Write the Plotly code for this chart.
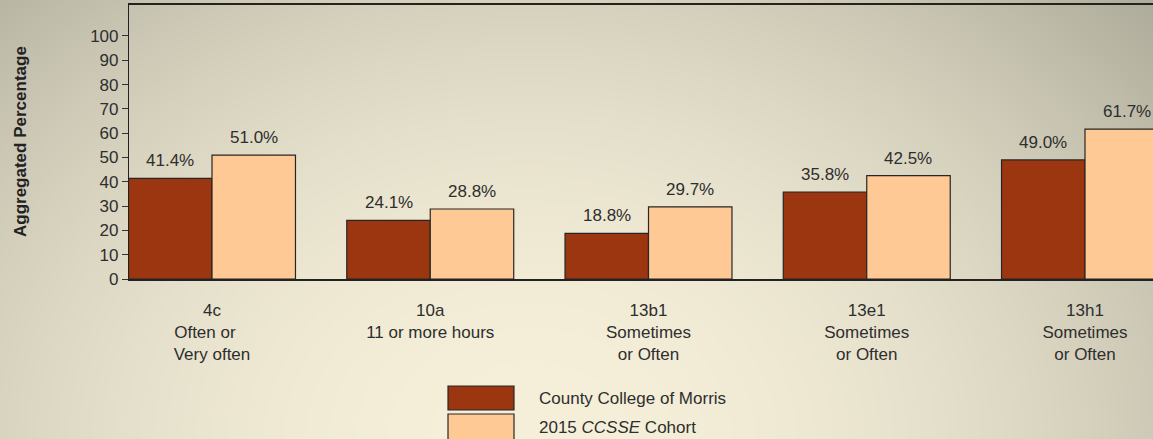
import base64, struct, zlib
import numpy as np
import plotly.graph_objects as go

# ---------------- data ----------------
categories = ["4c<br>Often or\u00a0\u00a0\u00a0<br>Very often",
              "10a<br>11 or more hours",
              "13b1<br>Sometimes<br>or Often",
              "13e1<br>Sometimes<br>or Often",
              "13h1<br>Sometimes<br>or Often"]
college_values = [41.4, 24.1, 18.8, 35.8, 49.0]
cohort_values = [51.0, 28.8, 29.7, 42.5, 61.7]
series_names = ["County College of Morris", "2015 CCSSE Cohort"]
y_ticks = list(range(0, 101, 10))

# ---------------- layout constants ----------------
W, H = 1153, 439
ML, MR, MT, MB = 129, 0, 5, 160
PW, PH = W - ML - MR, H - MT - MB
FONT = "Arial, 'Liberation Sans', sans-serif"
TXT = "#2e2e2e"
DARK = "#9c3610"
LIGHT = "#ffc996"
BW = 0.3825
FS = 17

def px_x(p):
    return (p - ML) / PW

def px_y(p):
    return (H - MB - p) / PH

# ---------------- gradient background ----------------
def make_bg():
    yy, xx = np.mgrid[0:H, 0:W].astype(float)
    cx, cy, rx, ry = 530.0, 440.0, 760.0, 600.0
    d = np.sqrt(((xx - cx) / rx) ** 2 + ((yy - cy) / ry) ** 2)
    t = np.clip(d, 0, 1.15) ** 2
    c0 = np.array([246, 240, 218], float)
    c1 = np.array([186, 183, 165], float)
    img = c0[None, None, :] + (c1 - c0)[None, None, :] * t[..., None]
    img = np.clip(img, 0, 255).astype(np.uint8)
    raw = b"".join(b"\x00" + img[r].tobytes() for r in range(H))

    def chunk(tag, data):
        c = struct.pack(">I", len(data)) + tag + data
        return c + struct.pack(">I", zlib.crc32(tag + data) & 0xFFFFFFFF)

    png = b"\x89PNG\r\n\x1a\n"
    png += chunk(b"IHDR", struct.pack(">IIBBBBB", W, H, 8, 2, 0, 0, 0))
    png += chunk(b"IDAT", zlib.compress(raw, 9))
    png += chunk(b"IEND", b"")
    return "data:image/png;base64," + base64.b64encode(png).decode()

xs = list(range(len(categories)))

fig = go.Figure()
fig.add_trace(go.Bar(x=xs, y=college_values, name=series_names[0], width=BW, offset=-BW,
                     marker=dict(color=DARK, line=dict(color="#262626", width=1.2)),
                     showlegend=False))
fig.add_trace(go.Bar(x=xs, y=cohort_values, name=series_names[1], width=BW, offset=0,
                     marker=dict(color=LIGHT, line=dict(color="#262626", width=1.2)),
                     showlegend=False))

annotations = []
for i, v in enumerate(college_values):
    annotations.append(dict(x=i - BW / 2, y=v, xref="x", yref="y", text=f"{v:.1f}%",
                            showarrow=False, yanchor="bottom", yshift=6,
                            font=dict(family=FONT, size=FS, color=TXT)))
for i, v in enumerate(cohort_values):
    annotations.append(dict(x=i + BW / 2, y=v, xref="x", yref="y", text=f"{v:.1f}%",
                            showarrow=False, yanchor="bottom", yshift=6,
                            font=dict(family=FONT, size=FS, color=TXT)))

# y axis title
annotations.append(dict(x=px_x(20), y=0.5, xref="paper", yref="paper",
                        text="<b>Aggregated Percentage</b>", textangle=-90,
                        showarrow=False, xanchor="center", yanchor="middle",
                        font=dict(family=FONT, size=17, color="#222222")))

# legend (manual, large swatches)
shapes = []
leg = [(series_names[0], DARK, 386, 410, 398),
       ("2015 <i>CCSSE</i> Cohort", LIGHT, 414, 441, 427)]
for label, col, y0, y1, yc in leg:
    shapes.append(dict(type="rect", xref="paper", yref="paper",
                       x0=px_x(448), x1=px_x(514), y0=px_y(y1), y1=px_y(y0),
                       fillcolor=col, line=dict(color="#262626", width=1.2)))
    annotations.append(dict(x=px_x(537), y=px_y(yc), xref="paper", yref="paper",
                            text=label, showarrow=False, xanchor="left", yanchor="middle",
                            font=dict(family=FONT, size=FS, color=TXT)))

fig.update_layout(
    width=W, height=H,
    margin=dict(l=ML, r=MR, t=MT, b=MB, pad=0),
    paper_bgcolor="#e2dcc5",
    plot_bgcolor="rgba(0,0,0,0)",
    barmode="overlay",
    showlegend=False,
    annotations=annotations,
    shapes=shapes,
    images=[dict(source=make_bg(), xref="paper", yref="paper",
                 x=px_x(0), y=px_y(0), sizex=W / PW, sizey=H / PH,
                 xanchor="left", yanchor="top", sizing="stretch", layer="below")],
    xaxis=dict(range=[-83 / 218.25, (W - 212) / 218.25], tickvals=xs, ticktext=categories,
               showgrid=False, zeroline=False, showline=True, mirror=True,
               linecolor="#222222", linewidth=1.5, ticks="", ticklabelstandoff=15,
               tickfont=dict(family=FONT, size=FS, color=TXT), fixedrange=True),
    yaxis=dict(range=[0, 112.75],
               tickvals=y_ticks, showgrid=False, zeroline=False,
               showline=True, linecolor="#222222", linewidth=1.2,
               ticks="outside", ticklen=6, tickcolor="#333333", tickwidth=1,
               tickfont=dict(family=FONT, size=FS, color=TXT), fixedrange=True),
)

fig.write_html("out.html", config={"displayModeBar": False},
               post_script="document.body.style.margin='0';document.body.style.overflow='hidden';")
